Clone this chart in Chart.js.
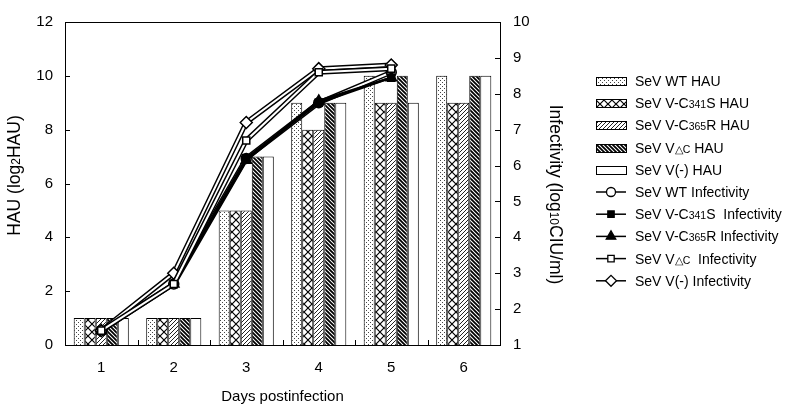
<!DOCTYPE html>
<html><head><meta charset="utf-8">
<script src="https://cdn.jsdelivr.net/npm/chart.js@4.4.0/dist/chart.umd.min.js"></script>
<style>html,body{margin:0;padding:0;background:#fff}#wrap{width:800px;height:410px}</style>
</head><body><div id="wrap"><canvas id="c" width="800" height="410"></canvas></div>
<script>
const days = ['1','2','3','4','5','6'];
const hauWT     = [1, 1, 5, 9, 10, 10];
const hauC341S  = [1, 1, 5, 8, 9, 9];
const hauC365R  = [1, 1, 5, 8, 9, 9];
const hauVdC    = [1, 1, 7, 9, 10, 10];
const hauVminus = [1, 1, 7, 9, 9, 10];
const infWT     = [1.4, 2.7, 6.2, 7.75, 8.6, null];
const infC341S  = [1.4, 2.7, 6.2, 7.75, 8.45, null];
const infC365R  = [1.4, 2.7, 6.15, 7.8, 8.45, null];
const infVdC    = [1.4, 2.7, 6.7, 8.6, 8.7, null];
const infVminus = [1.4, 3.0, 7.2, 8.7, 8.8, null];
const hauLabels = ['SeV WT HAU','SeV V-C341S HAU','SeV V-C365R HAU','SeV V\u25B3C HAU','SeV V(-) HAU'];
const infLabels = ['SeV WT Infectivity','SeV V-C341S  Infectivity','SeV V-C365R Infectivity','SeV V\u25B3C  Infectivity','SeV V(-) Infectivity'];
const xTitle = 'Days postinfection';
const yTitle = 'HAU (log2HAU)';
const y2Title = 'Infectivity (log10CIU/ml)';

const FONT = '"Liberation Sans", Arial, Helvetica, sans-serif';
const canvas = document.getElementById('c');
const ctx = canvas.getContext('2d');

function pat(w, h, draw) {
  const c = document.createElement('canvas'); c.width = w; c.height = h;
  const x = c.getContext('2d');
  x.fillStyle = '#fff'; x.fillRect(0, 0, w, h);
  draw(x);
  return ctx.createPattern(c, 'repeat');
}
const pDots = pat(4, 4, x => { x.fillStyle = '#444'; x.fillRect(0, 0, 1, 1); x.fillRect(2, 2, 1, 1); });
const pCross = pat(8, 8, x => { x.strokeStyle = '#000'; x.lineWidth = 1.2;
  x.beginPath(); x.moveTo(0, 0); x.lineTo(8, 8); x.moveTo(8, 0); x.lineTo(0, 8); x.stroke(); });
const pFwd = pat(4, 4, x => { x.strokeStyle = '#222'; x.lineWidth = 1;
  x.beginPath(); x.moveTo(-1, 5); x.lineTo(5, -1); x.moveTo(-1, 1); x.lineTo(1, -1); x.moveTo(3, 5); x.lineTo(5, 3); x.stroke(); });
const pBack = pat(4, 4, x => { x.strokeStyle = '#000'; x.lineWidth = 1.8;
  x.beginPath(); x.moveTo(-1, -1); x.lineTo(5, 5); x.moveTo(3, -1); x.lineTo(5, 1); x.moveTo(-1, 3); x.lineTo(1, 5); x.stroke(); });
const fills = [pDots, pCross, pFwd, pBack, '#fff'];
const hauData = [hauWT, hauC341S, hauC365R, hauVdC, hauVminus];
const infData = [infWT, infC341S, infC365R, infVdC, infVminus];
const pStyles = ['circle', 'rect', 'triangle', 'rect', 'rectRot'];
const pFill = ['#fff', '#000', '#000', '#fff', '#fff'];
const pRad = [5, 5, 6, 5, 6];
const outlined = [true, false, false, true, true];
// higher order = drawn further below
const lineOrder = [1.5, 1.4, 1.3, 1.0, 1.2];

const datasets = [];
hauData.forEach((d, i) => datasets.push({
  type: 'bar', label: hauLabels[i], data: d, yAxisID: 'y', order: 2,
  backgroundColor: fills[i], borderColor: '#000', borderWidth: 1,
  categoryPercentage: 0.76, barPercentage: 1
}));
infData.forEach((d, i) => datasets.push({
  type: 'line', label: infLabels[i], data: d, yAxisID: 'y2', order: lineOrder[i],
  borderColor: outlined[i] ? '#fff' : '#000', borderWidth: outlined[i] ? 2 : 2.6,
  outline: outlined[i], tension: 0, spanGaps: false,
  pointStyle: pStyles[i], pointRadius: pRad[i], pointHoverRadius: pRad[i],
  pointBackgroundColor: pFill[i], pointBorderColor: '#000', pointBorderWidth: 1.5
}));

const outlinePlugin = {
  id: 'outline',
  beforeDatasetDraw(chart, args) {
    const ds = chart.data.datasets[args.index];
    if (!ds.outline) return;
    const pts = args.meta.data;
    const c = chart.ctx;
    c.save();
    c.strokeStyle = '#000'; c.lineWidth = 5; c.lineJoin = 'round';
    c.beginPath();
    let started = false;
    pts.forEach((p, k) => {
      if (ds.data[k] == null || p.skip) { started = false; return; }
      if (!started) { c.moveTo(p.x, p.y); started = true; } else c.lineTo(p.x, p.y);
    });
    c.stroke();
    c.restore();
  }
};

function drawRich(c, text, x, y, big, small, subMode) {
  const re = subMode ? /(\d+)/ : /(\d{3}|\u25B3C)/;
  const parts = text.split(re);
  let w = 0;
  const items = parts.filter(p => p).map(p => {
    const sm = subMode ? /^\d+$/.test(p) : /^(\d{3}|\u25B3C)$/.test(p);
    c.font = (sm ? small : big) + 'px ' + FONT;
    const mw = c.measureText(p).width;
    w += mw;
    return { p, sm, mw };
  });
  if (x === null) return w;
  items.forEach(it => {
    c.font = (it.sm ? small : big) + 'px ' + FONT;
    c.fillText(it.p, x, y + (it.sm && subMode ? 2 : 0));
    x += it.mw;
  });
  return w;
}

const framePlugin = {
  id: 'frame',
  afterDraw(chart) {
    const a = chart.chartArea, c = chart.ctx;
    c.save();
    c.strokeStyle = '#000'; c.lineWidth = 1;
    c.strokeRect(Math.round(a.left) + 0.5, Math.round(a.top) + 0.5, Math.round(a.right - a.left), Math.round(a.bottom - a.top));
    c.beginPath();
    const y = chart.scales.y, y2 = chart.scales.y2, x = chart.scales.x;
    y.ticks.forEach(t => { const py = Math.round(y.getPixelForValue(t.value)) + 0.5; c.moveTo(a.left, py); c.lineTo(a.left + 5, py); });
    y2.ticks.forEach(t => { const py = Math.round(y2.getPixelForValue(t.value)) + 0.5; c.moveTo(a.right - 5, py); c.lineTo(a.right, py); });
    for (let i = 1; i < days.length; i++) {
      const px = Math.round((x.getPixelForValue(i - 1) + x.getPixelForValue(i)) / 2) + 0.5;
      c.moveTo(px, a.bottom); c.lineTo(px, a.bottom - 5);
    }
    c.stroke();
    c.fillStyle = '#000'; c.textBaseline = 'middle'; c.textAlign = 'left';
    const midY = (a.top + a.bottom) / 2;
    let w = drawRich(c, yTitle, null, 0, 17.5, 12, true);
    c.save(); c.translate(y.left + 15, midY - 8); c.rotate(-Math.PI / 2);
    drawRich(c, yTitle, -w / 2, 0, 17.5, 12, true); c.restore();
    w = drawRich(c, y2Title, null, 0, 17.5, 12, true);
    c.save(); c.translate(y2.left + 55, midY + 11); c.rotate(Math.PI / 2);
    drawRich(c, y2Title, -w / 2, 0, 17.5, 12, true); c.restore();
    c.restore();
  }
};

const legendPlugin = {
  id: 'myLegend',
  afterDraw(chart) {
    const c = chart.ctx;
    const x0 = 596, y0 = 81, dy = 22.2;
    c.save();
    c.fillStyle = '#000'; c.textBaseline = 'alphabetic'; c.textAlign = 'left';
    chart.data.datasets.forEach((ds, i) => {
      const cy = y0 + i * dy;
      if (ds.type === 'bar') {
        c.fillStyle = ds.backgroundColor;
        c.fillRect(x0, Math.round(cy - 4), 30, 8);
        c.strokeStyle = '#000'; c.lineWidth = 1;
        c.strokeRect(x0 + 0.5, Math.round(cy - 4) + 0.5, 30, 8);
      } else {
        c.strokeStyle = '#000'; c.lineWidth = 1.5;
        c.beginPath(); c.moveTo(x0, cy); c.lineTo(x0 + 30, cy); c.stroke();
        c.fillStyle = ds.pointBackgroundColor; c.strokeStyle = '#000'; c.lineWidth = 1.3;
        Chart.helpers.drawPoint(c, { pointStyle: ds.pointStyle, radius: ds.pointRadius - 0.5, borderWidth: 1.3, rotation: 0 }, x0 + 15, cy);
      }
      c.fillStyle = '#000';
      drawRich(c, ds.label, x0 + 39, cy + 5, 14, 10.5, false);
    });
    c.restore();
  }
};

new Chart(canvas, {
  data: { labels: days, datasets },
  options: {
    responsive: false, animation: false, devicePixelRatio: 1,
    layout: { padding: { left: 0, right: 236, top: 17, bottom: 0 } },
    plugins: { legend: { display: false }, tooltip: { enabled: false } },
    scales: {
      x: {
        offset: true,
        grid: { display: false, drawTicks: false }, border: { display: false },
        ticks: { color: '#000', font: { family: FONT, size: 15 }, padding: 14 },
        title: { display: true, text: xTitle, color: '#000', font: { family: FONT, size: 15 }, padding: { top: 0, bottom: 4 } },
        afterFit(s) { s.height = 65; }
      },
      y: {
        position: 'left', min: 0, max: 12,
        grid: { display: false, drawTicks: false }, border: { display: false },
        ticks: { stepSize: 2, color: '#000', font: { family: FONT, size: 15 }, padding: 12 },
        title: { display: false },
        afterFit(s) { s.width = 65; }
      },
      y2: {
        position: 'right', min: 1, max: 10,
        grid: { display: false, drawTicks: false }, border: { display: false },
        ticks: { stepSize: 1, color: '#000', font: { family: FONT, size: 15 }, padding: 13 },
        title: { display: false },
        afterFit(s) { s.width = 64; }
      }
    }
  },
  plugins: [outlinePlugin, framePlugin, legendPlugin]
});
</script>
</body></html>
